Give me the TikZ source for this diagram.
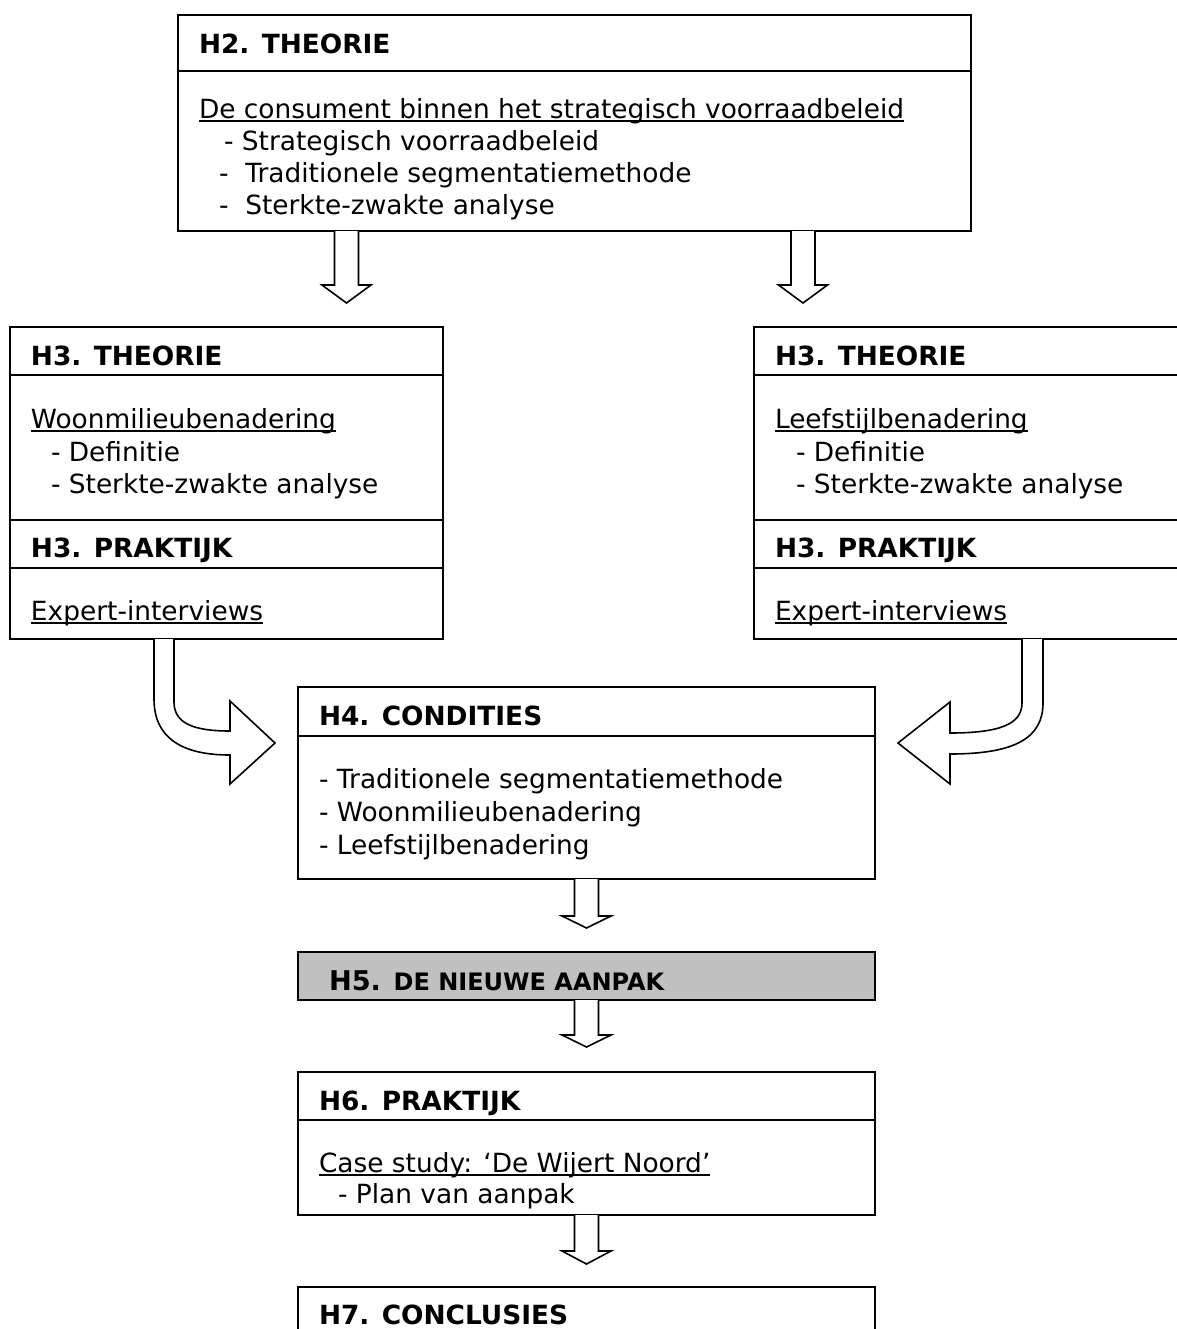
\documentclass[tikz,border=0pt]{standalone}
\usepackage{fontspec}
\setmainfont{DejaVu Sans}
\usetikzlibrary{fit}
\definecolor{hgray}{HTML}{C0C0C0}
\tikzset{
 box/.style={draw, line width=0.8pt, inner sep=0pt, outer sep=0pt},
 txt/.style={anchor=base west, inner sep=0pt, outer sep=0pt, font=\fontsize{13.2pt}{15pt}\selectfont},
 hd/.style={txt, font=\fontsize{13.2pt}{15pt}\selectfont\bfseries},
 blk/.style={draw, line width=0.8pt, fill=white, line join=miter},
 sepline/.style={line width=0.8pt},
 ulline/.style={line width=0.75pt}
}
\newcommand{\ulnode}[1]{\draw[ulline] ([yshift=-1.4pt]#1.base west) -- ([yshift=-1.4pt]#1.base east);}
\newcommand{\dnblk}[3]{\draw[blk] ([xshift=-6pt]#1) -- ++(0,#2) -- ++(-12.5,0) -- ++(24.5,#3) -- ++(24.5,-#3) -- ++(-12.5,0) -- ++(0,-#2);}
\begin{document}
\begin{tikzpicture}[x=0.5pt, y=-0.5pt]
\useasboundingbox (0,0) rectangle (1177,1329);
\clip (0,0) rectangle (1177,1329);
\fill[white] (0,0) rectangle (1177,1329);

% ---------- H2 ----------
\node[box, fit={(178,15) (971,231)}] (h2) {};
\draw[sepline] ([yshift=-28pt]h2.north west) -- ([yshift=-28pt]h2.north east);
\node[hd] (h2a) at (199,53) {H2. THEORIE};
\node[txt] (h2b) at (199,118) {De consument binnen het strategisch voorraadbeleid};
\ulnode{h2b}
\node[txt] (h2c) at (224,150) {- Strategisch voorraadbeleid};
\node[txt] (h2d) at (219,182) {-\ \ Traditionele segmentatiemethode};
\node[txt] (h2e) at (219,214) {-\ \ Sterkte-zwakte analyse};

% ---------- H3 left ----------
\node[box, fit={(10,327) (443,639)}] (h3l) {};
\draw[sepline] ([yshift=-24pt]h3l.north west) -- ([yshift=-24pt]h3l.north east);
\draw[sepline] ([yshift=-96.5pt]h3l.north west) -- ([yshift=-96.5pt]h3l.north east);
\draw[sepline] ([yshift=-120.5pt]h3l.north west) -- ([yshift=-120.5pt]h3l.north east);
\node[hd] (l1) at (31,365) {H3. THEORIE};
\node[txt] (l2) at (31,428) {Woonmilieubenadering};
\ulnode{l2}
\node[txt] (l3) at (51,461) {- Definitie};
\node[txt] (l4) at (51,493) {- Sterkte-zwakte analyse};
\node[hd] (l5) at (31,557) {H3. PRAKTIJK};
\node[txt] (l6) at (31,620) {Expert-interviews};
\ulnode{l6}

% ---------- H3 right ----------
\node[box, fit={(754,327) (1200,639)}] (h3r) {};
\draw[sepline] ([yshift=-24pt]h3r.north west) -- ([yshift=-24pt]h3r.north east);
\draw[sepline] ([yshift=-96.5pt]h3r.north west) -- ([yshift=-96.5pt]h3r.north east);
\draw[sepline] ([yshift=-120.5pt]h3r.north west) -- ([yshift=-120.5pt]h3r.north east);
\node[hd] (r1) at (775,365) {H3. THEORIE};
\node[txt] (r2) at (775,428) {Leefstijlbenadering};
\ulnode{r2}
\node[txt] (r3) at (796,461) {- Definitie};
\node[txt] (r4) at (796,493) {- Sterkte-zwakte analyse};
\node[hd] (r5) at (775,557) {H3. PRAKTIJK};
\node[txt] (r6) at (775,620) {Expert-interviews};
\ulnode{r6}

% ---------- H4 ----------
\node[box, fit={(298,687) (875,879)}] (h4) {};
\draw[sepline] ([yshift=-24.5pt]h4.north west) -- ([yshift=-24.5pt]h4.north east);
\node[hd] (c1) at (319,725) {H4. CONDITIES};
\node[txt] (c2) at (319,788) {- Traditionele segmentatiemethode};
\node[txt] (c3) at (319,821) {- Woonmilieubenadering};
\node[txt] (c4) at (319,854) {- Leefstijlbenadering};

% ---------- H5 ----------
\node[box, fill=hgray, fit={(298,952) (875,1000)}] (h5) {};
\node[txt] (n1) at (329,990) {\bfseries\fontsize{13.6pt}{15pt}\selectfont H5. \fontsize{12pt}{15pt}\selectfont DE NIEUWE AANPAK};

% ---------- H6 ----------
\node[box, fit={(298,1072) (875,1215)}] (h6) {};
\draw[sepline] ([yshift=-24pt]h6.north west) -- ([yshift=-24pt]h6.north east);
\node[hd] (p1) at (319,1110) {H6. PRAKTIJK};
\node[txt] (p2) at (319,1172) {Case study: ‘De Wijert Noord’};
\ulnode{p2}
\node[txt] (p3) at (338,1203) {- Plan van aanpak};

% ---------- H7 ----------
\node[box, fit={(298,1287) (875,1360)}] (h7) {};
\node[hd] (q1) at (319,1324) {H7. CONCLUSIES};

% ---------- straight block arrows ----------
\path (h2.south west) ++(168.5,0) coordinate (s1);
\path (h2.south west) ++(625,0) coordinate (s2);
\path (h4.south west) ++(288.5,0) coordinate (s3);
\path (h5.south west) ++(288.5,0) coordinate (s4);
\path (h6.south west) ++(288.5,0) coordinate (s5);
\dnblk{s1}{54}{18}
\dnblk{s2}{54}{18}
\dnblk{s3}{37}{12}
\dnblk{s4}{35}{12}
\dnblk{s5}{36}{13}

% ---------- curved block arrows ----------
\path (h3l.south west) ++(144,0) coordinate (cl);
\path (h3r.south west) ++(268,0) coordinate (cr);
\draw[blk] (cl) -- (154,699) .. controls (154,738) and (182,755) .. (230,755)
  -- (230,784) -- (275,743) -- (230,701) -- (230,731)
  .. controls (195,731) and (174,724) .. (174,702) -- ([xshift=10pt]cl);
\draw[blk] (cr) -- (1022,703) .. controls (1022,724) and (1000,733) .. (950,733)
  -- (950,702) -- (898,743) -- (950,784) -- (950,754)
  .. controls (1015,754) and (1043,738) .. (1043,703) -- ([xshift=10.5pt]cr);
\end{tikzpicture}
\end{document}
